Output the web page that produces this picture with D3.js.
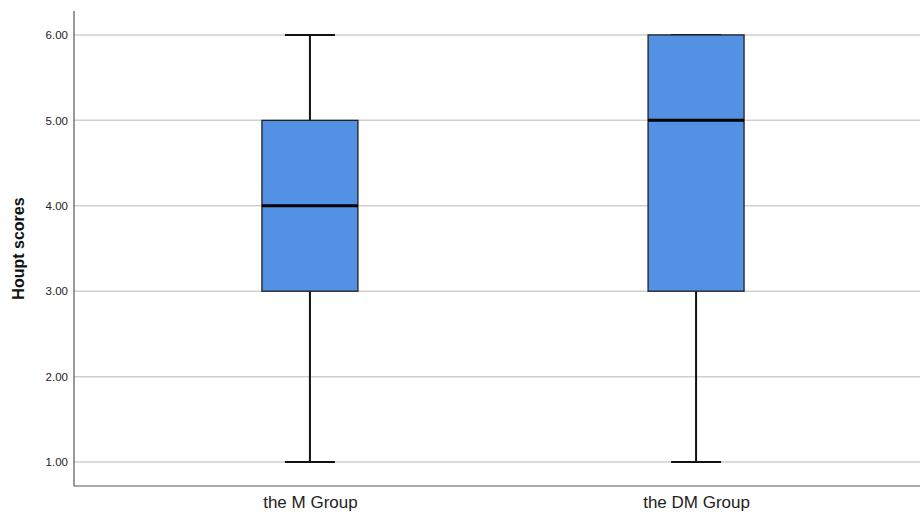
<!DOCTYPE html>
<html><head><meta charset="utf-8">
<script src="https://cdn.jsdelivr.net/npm/d3@7"></script>
<style>body{margin:0;background:#fff}svg{display:block}</style>
</head><body><svg id="c" width="920" height="516"></svg>
<script>
const categories = ["the M Group", "the DM Group"];
const mins = [1, 1];
const q1s = [3, 3];
const medians = [4, 5];
const q3s = [5, 6];
const maxs = [6, 6];
const yTicks = [1, 2, 3, 4, 5, 6];
const yTitle = "Houpt scores";

(function(){
const svg = d3.select("#c");
const mL = 74, mB = 486, mT = 11, mR = 920;
const y = d3.scaleLinear().domain([0.72, 6.28]).range([mB, mT]);
const x = d3.scalePoint().domain(categories).range([mL, 932]).padding(0.611);
const boxW = 96, capW = 50;

// gridlines
svg.append("g").selectAll("line").data(yTicks).join("line")
  .attr("x1", mL).attr("x2", mR)
  .attr("y1", d => y(d)).attr("y2", d => y(d))
  .attr("stroke", "#cfcfcf").attr("stroke-width", 1.5);

// y axis
const ya = svg.append("g").attr("transform", `translate(${mL},0)`)
  .call(d3.axisLeft(y).tickValues(yTicks).tickFormat(d3.format(".2f")).tickSize(0).tickPadding(6));
ya.select(".domain").remove();
ya.selectAll("text").attr("font-family", "Arial, Liberation Sans, sans-serif").attr("font-size", 11.5).attr("fill", "#222");
svg.append("line").attr("x1", mL).attr("x2", mL).attr("y1", mT).attr("y2", mB)
  .attr("stroke", "#555").attr("stroke-width", 1.2);

// x axis
const xa = svg.append("g").attr("transform", `translate(0,${mB})`)
  .call(d3.axisBottom(x).tickSize(0).tickPadding(10));
xa.select(".domain").remove();
xa.selectAll("text").attr("font-family", "Arial, Liberation Sans, sans-serif").attr("font-size", 17).attr("fill", "#222");
svg.append("line").attr("x1", mL).attr("x2", mR).attr("y1", mB).attr("y2", mB)
  .attr("stroke", "#555").attr("stroke-width", 1.2);

// y title
svg.append("text").attr("transform", `translate(24,${(mT+mB)/2}) rotate(-90)`)
  .attr("text-anchor", "middle").attr("font-family", "Arial, Liberation Sans, sans-serif")
  .attr("font-weight", "bold").attr("font-size", 16).attr("fill", "#111").text(yTitle);

// boxes
const g = svg.append("g").selectAll("g").data(categories).join("g");
g.append("line").attr("x1", d => x(d)).attr("x2", d => x(d))
  .attr("y1", (d,i) => y(maxs[i])).attr("y2", (d,i) => y(mins[i]))
  .attr("stroke", "#111").attr("stroke-width", 2);
g.append("line").attr("x1", d => x(d)-capW/2).attr("x2", d => x(d)+capW/2)
  .attr("y1", (d,i) => y(mins[i])).attr("y2", (d,i) => y(mins[i]))
  .attr("stroke", "#111").attr("stroke-width", 2);
g.append("line").attr("x1", d => x(d)-capW/2).attr("x2", d => x(d)+capW/2)
  .attr("y1", (d,i) => y(maxs[i])).attr("y2", (d,i) => y(maxs[i]))
  .attr("stroke", "#111").attr("stroke-width", 2);
g.append("rect").attr("x", d => x(d)-boxW/2).attr("width", boxW)
  .attr("y", (d,i) => y(q3s[i])).attr("height", (d,i) => y(q1s[i]) - y(q3s[i]))
  .attr("fill", "#5291e3").attr("stroke", "#222").attr("stroke-width", 1.3);
g.append("line").attr("x1", d => x(d)-boxW/2).attr("x2", d => x(d)+boxW/2)
  .attr("y1", (d,i) => y(medians[i])).attr("y2", (d,i) => y(medians[i]))
  .attr("stroke", "#000").attr("stroke-width", 3);
})();
</script></body></html>
